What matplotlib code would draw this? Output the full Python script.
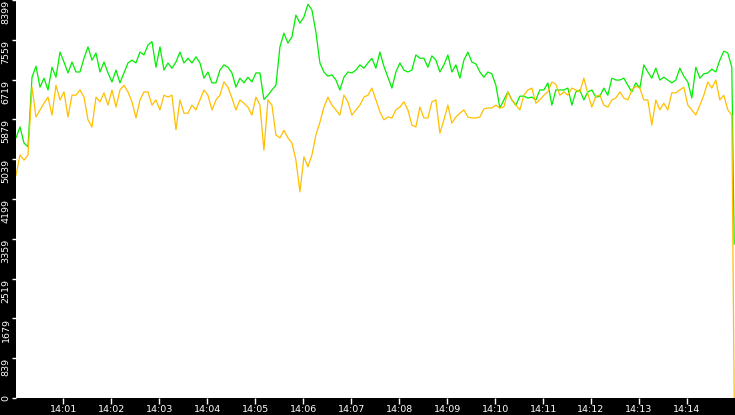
import pandas as pd
import matplotlib
matplotlib.use('Agg')
import matplotlib.pyplot as plt

# samples every 5 s starting 14:00:01, plus one last reading at 14:14:59
start = '2024-01-01 14:00:01'

green = [5490, 5720, 5380, 5300, 6770, 7000, 6560, 6750, 6500, 6980,
         6770, 7300, 7090, 6860, 7090, 6880, 6880, 7170, 7410, 7130,
         7280, 6880, 7090, 6860, 6670, 6920, 6650, 6860, 7070, 7130,
         7070, 7300, 7240, 7450, 7520, 6980, 7410, 6920, 7070, 6960,
         7090, 7300, 7070, 7170, 7070, 7200, 7070, 6750, 6880, 6650,
         6650, 6920, 7030, 6980, 6860, 6560, 6750, 6650, 6770, 6670,
         6860, 6860, 6300, 6390, 6500, 6600, 7410, 7700, 7490, 7620,
         8080, 7910, 8040, 8310, 8190, 7720, 7070, 6880, 6790, 6820,
         6710, 6500, 6770, 6880, 6860, 6920, 7030, 6960, 7070, 7170,
         6960, 7300, 7000, 6770, 6540, 6880, 7070, 6920, 6880, 6920,
         7240, 7170, 7170, 6980, 7220, 7130, 6880, 7030, 7240, 6880,
         7030, 6750, 7130, 7300, 7090, 7050, 6880, 6770, 6880, 6840,
         6600, 6120, 6290, 6460, 6290, 6180, 6370, 6370, 6330, 6350,
         6290, 6500, 6500, 6650, 6180, 6500, 6500, 6500, 6540, 6180,
         6460, 6500, 6290, 6460, 6500, 6350, 6370, 6540, 6390, 6750,
         6710, 6710, 6750, 6600, 6460, 6650, 6540, 7030, 6880, 6750,
         6960, 6710, 6770, 6710, 6650, 6710, 6960, 6790, 6670, 6330,
         6980, 6750, 6840, 6860, 6940, 6880, 7130, 7320, 7280, 6980]
green_last = 3250

yellow = [4700, 5130, 5020, 5130, 6560, 5930, 6080, 6220, 6350, 5970,
          6600, 6290, 6460, 5930, 6390, 6390, 6500, 6350, 5870, 5720,
          6350, 6250, 6440, 6180, 6500, 6140, 6500, 6600, 6460, 6250,
          5910, 6290, 6460, 6460, 6180, 6290, 6080, 6390, 6350, 6390,
          5660, 6290, 6010, 6010, 6180, 6080, 6290, 6500, 6390, 6080,
          6290, 6390, 6670, 6560, 6330, 6080, 6290, 6220, 6140, 5970,
          6350, 6180, 5230, 6290, 6180, 5550, 5490, 5650, 5490, 5380,
          5020, 4350, 5090, 4880, 5130, 5550, 5820, 6140, 6350, 6180,
          6080, 5970, 6390, 6250, 5970, 6080, 6180, 6350, 6390, 6540,
          6290, 6040, 5870, 5930, 5910, 6080, 6140, 6250, 6080, 5760,
          5720, 6140, 5910, 5910, 6250, 6290, 5590, 5870, 6180, 5800,
          5930, 6010, 6080, 5930, 5910, 5910, 5930, 6100, 6120, 6120,
          6180, 6120, 6140, 6460, 6290, 6180, 6080, 6390, 6500, 6540,
          6220, 6290, 6390, 6460, 6670, 6620, 6390, 6460, 6390, 6540,
          6500, 6460, 6750, 6420, 6140, 6370, 6390, 6180, 6140, 6290,
          6330, 6460, 6330, 6290, 6500, 6580, 6540, 6290, 6290, 5760,
          6290, 6080, 6220, 6080, 6440, 6440, 6500, 6560, 6180, 6080,
          5970, 6180, 6390, 6670, 6540, 6710, 6290, 6390, 6080, 5970]
yellow_last = 0

y_ticks = [0, 839.9, 1679.8, 2519.7, 3359.6, 4199.5, 5039.4, 5879.3, 6719.2, 7559.1, 8399]
y_labels = ['0', '839', '1679', '2519', '3359', '4199', '5039', '5879', '6719', '7559', '8399']
x_labels = ['14:01', '14:02', '14:03', '14:04', '14:05', '14:06', '14:07',
            '14:08', '14:09', '14:10', '14:11', '14:12', '14:13', '14:14']

times = list(pd.date_range(start, periods=len(green), freq='5s'))
times.append(pd.Timestamp('2024-01-01 14:14:59'))
green_all = green + [green_last]
yellow_all = yellow + [yellow_last]

fig = plt.figure(figsize=(7.35, 4.15), dpi=100, facecolor='black')
ax = fig.add_axes([16 / 735, 17 / 415, 719 / 735, 398 / 415])
ax.set_facecolor('white')

ax.plot(times, green_all, color='#00ee00', lw=0.9)
ax.plot(times, yellow_all, color='#ffbf00', lw=0.9)

ax.set_xlim(pd.Timestamp('2024-01-01 14:00:01'), pd.Timestamp('2024-01-01 14:15:00'))
ax.set_ylim(0, 8399)

for s in ax.spines.values():
    s.set_visible(False)

# y axis: rotated labels hanging below their ticks
ax.set_yticks(y_ticks)
ax.set_yticklabels(y_labels)
ax.tick_params(axis='y', colors='white', length=3, width=1, pad=1,
               labelsize=6.8, labelrotation=90)
for i, lab in enumerate(ax.get_yticklabels()):
    lab.set_va('center' if i == 0 else 'top')
    lab.set_ha('right')

# x axis: one tick per minute
ticks = [pd.Timestamp('2024-01-01 ' + t) for t in x_labels]
ax.set_xticks(ticks)
ax.set_xticklabels(x_labels)
ax.tick_params(axis='x', colors='white', length=4, width=1, pad=1, labelsize=6.8)

fig.savefig('out.png', dpi=100, facecolor='black')
